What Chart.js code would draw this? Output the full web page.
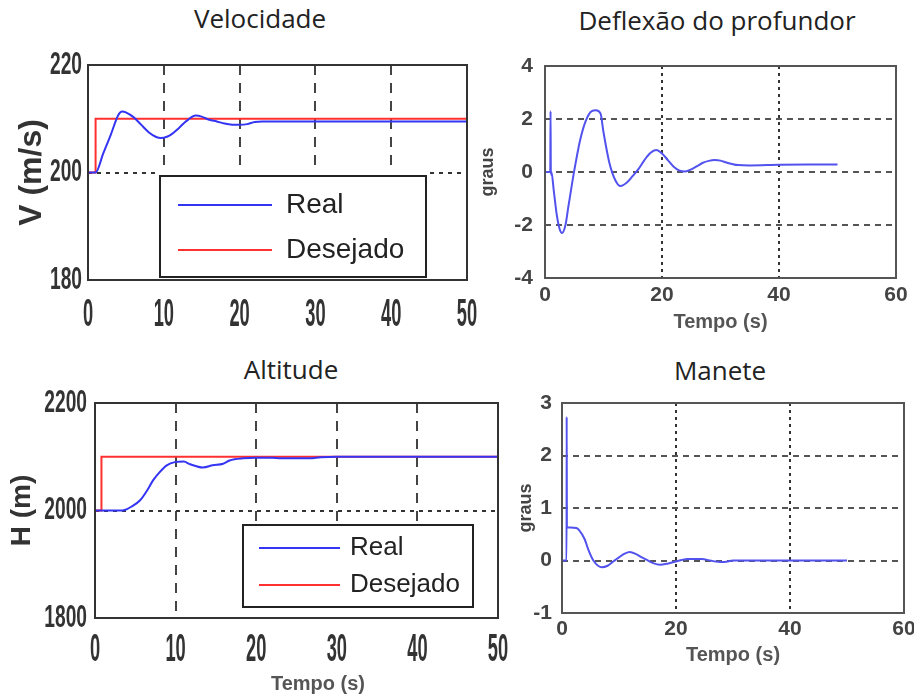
<!DOCTYPE html>
<html><head><meta charset="utf-8">
<script src="https://cdn.jsdelivr.net/npm/chart.js@4.4.0/dist/chart.umd.min.js"></script>
<style>
html,body{margin:0;padding:0;background:#fff;}
body{width:914px;height:696px;position:relative;overflow:hidden;}
canvas{position:absolute;}
.t{position:absolute;width:400px;text-align:center;font-family:'Open Sans',sans-serif;font-size:26px;line-height:30px;color:#222;}
.xl{position:absolute;width:200px;text-align:center;font-family:'Liberation Sans',Arial,sans-serif;font-weight:bold;font-size:20px;line-height:24px;color:#555;}
</style></head><body>
<div class="t" style="left:60px;top:3px">Velocidade</div>
<div class="t" style="left:517px;top:5px">Deflexão do profundor</div>
<div class="t" style="left:91px;top:354px">Altitude</div>
<div class="t" style="left:520px;top:355px">Manete</div>
<canvas id="c1" width="500" height="300" style="left:0;top:40px;width:500px;height:300px"></canvas>
<canvas id="c2" width="444" height="300" style="left:470px;top:40px;width:444px;height:300px"></canvas>
<canvas id="c3" width="520" height="326" style="left:0;top:370px;width:520px;height:326px"></canvas>
<canvas id="c4" width="424" height="326" style="left:490px;top:370px;width:424px;height:326px"></canvas>
<div class="xl" style="left:218px;top:671px">Tempo (s)</div>
<script>
// ---- Velocidade ----
const velTime = [0,1,2,3,4,4.5,5,6,7,8,9,9.6,10.5,11,12,13,14.2,15,16,17,18,19,20,21,22,23,24,30,40,50];
const velReal = [200,200,203.5,207,210.7,211.35,211.2,210.3,208.9,207.5,206.6,206.4,206.7,207.1,208.3,209.6,210.6,210.4,209.8,209.5,209.1,208.9,208.9,209.0,209.4,209.5,209.5,209.5,209.5,209.5];
const velRefTime = [0,1,1,50];
const velRef = [200,200,210,210];
// ---- Altitude ----
const altTime = [0,1,2,3,3.7,4.5,5.6,6.5,7.2,8,8.9,9.9,11,11.8,13.4,14.6,15.9,16.7,18.4,20,22,23,25,26.6,28,30,35,40,45,50];
const altReal = [2000,2000,2000,2000,2001,2007,2019,2038,2056,2071,2084,2090,2091,2086,2080,2084,2087,2093,2097,2098,2098,2097,2097,2097,2099,2100,2100,2100,2100,2100];
const altRefTime = [0,0.8,0.8,50];
const altRef = [2000,2000,2100,2100];
// ---- Deflexão do profundor ----
const defTime = [0,0.9,0.95,1.0,1.1,1.5,2,2.5,2.9,3.5,4,5,6,7,8,8.7,9.5,10,11,12,12.9,14,15,16,17,18,19,20,21,22,23,24,25,26,27,28,29,30,31,32,33,35,40,45,50];
const defVal = [0,0,2.3,-0.1,0,-0.7,-1.6,-2.15,-2.3,-2.0,-1.3,0.05,1.2,1.95,2.3,2.33,2.2,1.5,0.35,-0.3,-0.53,-0.4,-0.15,0.12,0.45,0.72,0.83,0.7,0.45,0.2,0.05,0.02,0.1,0.22,0.35,0.42,0.45,0.43,0.36,0.3,0.26,0.25,0.27,0.28,0.28];
// ---- Manete ----
const manTime = [0,0.8,0.82,0.86,1.5,2.5,3,4,4.6,5.5,7,8,9,10,11,11.9,13,14,14.9,16,17.2,18.5,19.6,21,22,24.5,26,27,28.5,30,35,40,45,50];
const manVal = [0,0,2.74,0.63,0.63,0.62,0.58,0.4,0.21,0.0,-0.13,-0.1,-0.02,0.06,0.13,0.16,0.12,0.06,0.01,-0.05,-0.08,-0.06,-0.03,0.01,0.03,0.03,0.0,-0.02,-0.03,0,0,0,0,0];

const seriesLabels = ['Real','Desejado'];
const titles = {vel:'V (m/s)', alt:'H (m)', graus:'graus', tempo:'Tempo (s)'};

const xy = (xs, ys) => xs.map((x, i) => ({x: x, y: ys[i]}));
const ARIAL = '"Liberation Sans", Arial, sans-serif';
const edgeHide = col => ctx => (ctx.scale && (ctx.index === 0 || ctx.index === ctx.scale.ticks.length - 1)) ? 'rgba(0,0,0,0)' : col;
const plainLabel = v => String(v);

const framePlugin = {
  id: 'frame',
  afterDraw(chart, args, o) {
    const a = chart.chartArea, c = chart.ctx;
    c.save();
    c.strokeStyle = o.color; c.lineWidth = o.width; c.setLineDash([]);
    c.strokeRect(a.left, a.top, a.right - a.left, a.bottom - a.top);
    c.restore();
  }
};
// condensed (tall, narrow) tick labels, placed with the chart's own scales
const narrowTicks = {
  id: 'narrowTicks',
  afterDraw(chart, args, o) {
    if (!o || !o.show) return;
    const a = chart.chartArea, c = chart.ctx;
    c.save();
    c.fillStyle = o.color;
    c.textBaseline = 'middle';
    const xs = chart.scales.x, ys = chart.scales.y;
    c.font = 'bold ' + o.xSize + 'px ' + ARIAL; c.textAlign = 'center';
    xs.ticks.forEach(t => {
      const px = xs.getPixelForValue(t.value);
      c.save(); c.translate(px, a.bottom + o.xOffset); c.scale(o.xSqueeze, 1);
      c.fillText(plainLabel(t.value), 0, 0); c.restore();
    });
    c.font = 'bold ' + o.ySize + 'px ' + ARIAL; c.textAlign = 'right';
    ys.ticks.forEach(t => {
      const py = ys.getPixelForValue(t.value);
      c.save(); c.translate(a.left - o.yPad, py); c.scale(o.ySqueeze, 1);
      c.fillText(plainLabel(t.value), 0, 0); c.restore();
    });
    c.restore();
  }
};
const boxLegend = {
  id: 'boxLegend',
  afterDatasetsDraw(chart, args, o) {
    if (!o || !o.show) return;
    const a = chart.chartArea, c = chart.ctx;
    const x = a.left + o.x, y = a.top + o.y;
    c.save();
    c.setLineDash([]);
    c.fillStyle = '#fff';
    c.fillRect(x - o.pad, y - o.pad, o.w + 2 * o.pad, o.h + 2 * o.pad);
    c.strokeStyle = '#222'; c.lineWidth = 2;
    c.strokeRect(x, y, o.w, o.h);
    c.font = o.font; c.textBaseline = 'middle'; c.textAlign = 'left';
    chart.data.datasets.forEach((ds, i) => {
      const ly = y + o.row0 + i * o.rowGap;
      c.strokeStyle = ds.borderColor; c.lineWidth = 2;
      c.beginPath(); c.moveTo(x + o.lineX, ly); c.lineTo(x + o.lineX + o.lineLen, ly); c.stroke();
      c.fillStyle = '#222';
      c.fillText(ds.label, x + o.textX, ly);
    });
    c.restore();
  }
};

function leftChart(id, cfg) {
  return new Chart(document.getElementById(id), {
    type: 'line',
    data: {datasets: [
      {label: seriesLabels[0], data: cfg.real, borderColor: '#3434f4', borderWidth: 2, pointRadius: 0, cubicInterpolationMode: 'monotone'},
      {label: seriesLabels[1], data: cfg.ref, borderColor: '#ff3030', borderWidth: 2, pointRadius: 0, tension: 0}
    ]},
    options: {
      responsive: false, animation: false, devicePixelRatio: 1, events: [],
      layout: {padding: {left: 0, top: cfg.padTop, right: cfg.padRight, bottom: 0}},
      plugins: {legend: {display: false}, tooltip: {enabled: false},
        frame: {color: '#333', width: 2},
        narrowTicks: {show: true, color: '#333', xSize: 38, xSqueeze: 0.48, xOffset: cfg.xTickOffset, ySize: 32, ySqueeze: 0.6, yPad: cfg.yTickPad},
        boxLegend: cfg.legend},
      scales: {
        x: {type: 'linear', min: 0, max: 50,
          ticks: {display: false, stepSize: 10, callback: plainLabel},
          grid: {drawTicks: false, color: edgeHide('#444'), lineWidth: 2},
          border: {display: false, dash: [10, 8]},
          afterFit: s => { s.height = cfg.xHeight; s.paddingLeft = 0; s.paddingRight = 0; }},
        y: {type: 'linear', min: cfg.ymin, max: cfg.ymax,
          ticks: {display: false, stepSize: cfg.ystep, callback: plainLabel},
          grid: {drawTicks: false, color: edgeHide('#333'), lineWidth: 2},
          border: {display: false, dash: [4, 5]},
          title: {display: true, text: cfg.yTitle, color: '#333', font: {family: ARIAL, size: cfg.yTitleSize, weight: 'bold'}, padding: {top: cfg.yTitlePad, bottom: 0}},
          afterFit: s => { s.width = cfg.yWidth; s.paddingTop = 0; s.paddingBottom = 0; }}
      }
    },
    plugins: [framePlugin, boxLegend, narrowTicks]
  });
}

function rightChart(id, cfg) {
  return new Chart(document.getElementById(id), {
    type: 'line',
    data: {datasets: [
      {label: 'graus', data: cfg.data, borderColor: '#5252ee', borderWidth: 2, pointRadius: 0, cubicInterpolationMode: 'monotone'}
    ]},
    options: {
      responsive: false, animation: false, devicePixelRatio: 1, events: [],
      layout: {padding: {left: 0, top: cfg.padTop, right: cfg.padRight, bottom: 0}},
      plugins: {legend: {display: false}, tooltip: {enabled: false},
        frame: {color: '#555', width: 2}, boxLegend: {show: false}, narrowTicks: {show: false}},
      scales: {
        x: {type: 'linear', min: 0, max: 60,
          ticks: {stepSize: 20, padding: cfg.xTickPad, color: '#444', font: {family: ARIAL, size: 21, weight: 'bold'}, callback: plainLabel},
          grid: {drawTicks: false, color: edgeHide('#333'), lineWidth: 2},
          border: {display: false, dash: [3, 4]},
          title: {display: true, text: titles.tempo, color: '#555', font: {family: ARIAL, size: 20, weight: 'bold'}, padding: {top: 0, bottom: cfg.xTitlePad}},
          afterFit: s => { s.height = cfg.xHeight; s.paddingLeft = 0; s.paddingRight = 0; }},
        y: {type: 'linear', min: cfg.ymin, max: cfg.ymax,
          ticks: {stepSize: cfg.ystep, padding: cfg.yTickPad, color: '#444', font: {family: ARIAL, size: 21, weight: 'bold'}, callback: plainLabel},
          grid: {drawTicks: false, color: edgeHide('#555'), lineWidth: 2},
          border: {display: false, dash: [6, 5]},
          title: {display: true, text: titles.graus, color: '#444', font: {family: ARIAL, size: 18, weight: 'bold'}, padding: {top: cfg.yTitlePad, bottom: 0}},
          afterFit: s => { s.width = cfg.yWidth; s.paddingTop = 0; s.paddingBottom = 0; }}
      }
    },
    plugins: [framePlugin, boxLegend, narrowTicks]
  });
}

leftChart('c1', {
  real: xy(velTime, velReal), ref: xy(velRefTime, velRef),
  ymin: 180, ymax: 220, ystep: 20, yTitle: titles.vel, yTitleSize: 32, yTitlePad: 13,
  padTop: 25, padRight: 33, xHeight: 60, yWidth: 88, xTickOffset: 36, yTickPad: 6,
  legend: {show: true, x: 72, y: 111, w: 266, h: 101, pad: 4, row0: 29, rowGap: 45, lineX: 18, lineLen: 94, textX: 126, font: '28px "Liberation Sans", Arial, sans-serif'}
});
leftChart('c3', {
  real: xy(altTime, altReal), ref: xy(altRefTime, altRef),
  ymin: 1800, ymax: 2200, ystep: 200, yTitle: titles.alt, yTitleSize: 28, yTitlePad: 5,
  padTop: 33, padRight: 22, xHeight: 78, yWidth: 95, xTickOffset: 33, yTickPad: 8,
  legend: {show: true, x: 148, y: 122, w: 230, h: 82, pad: 4, row0: 23, rowGap: 37, lineX: 16, lineLen: 81, textX: 107, font: '26px "Liberation Sans", Arial, sans-serif'}
});
rightChart('c2', {
  data: xy(defTime, defVal), ymin: -4, ymax: 4, ystep: 2,
  padTop: 26, padRight: 18, xHeight: 62, yWidth: 75, xTickPad: 5, yTickPad: 12, xTitlePad: 6, yTitlePad: 7
});
rightChart('c4', {
  data: xy(manTime, manVal), ymin: -1, ymax: 3, ystep: 1,
  padTop: 33, padRight: 10, xHeight: 83, yWidth: 72, xTickPad: 4, yTickPad: 10, xTitlePad: 29, yTitlePad: 25
});
</script>
</body></html>
